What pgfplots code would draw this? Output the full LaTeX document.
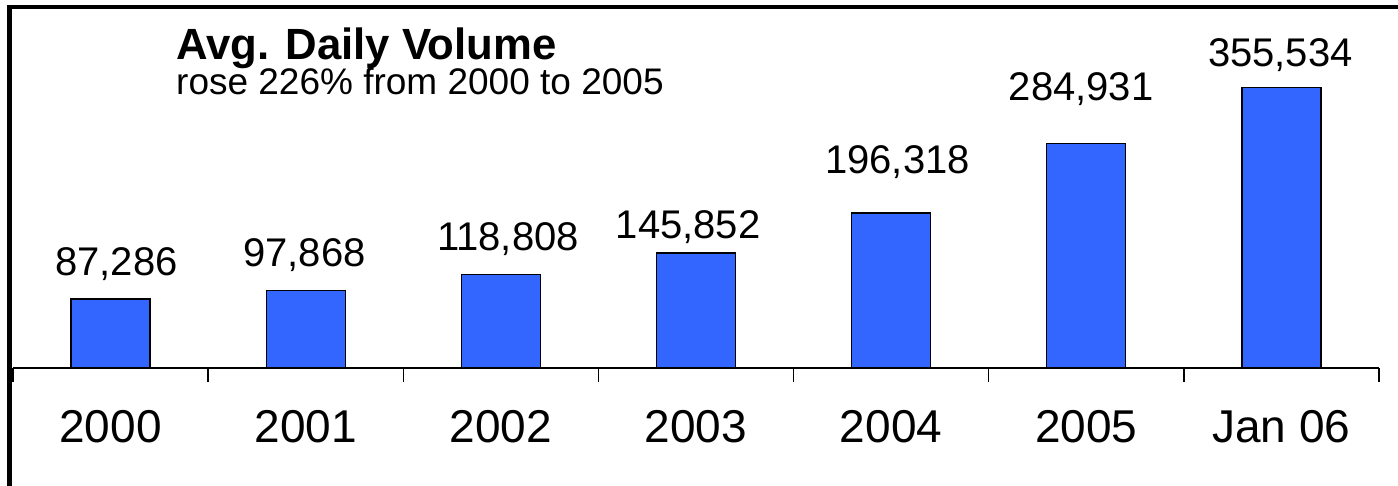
\documentclass[border=0pt]{standalone}
\usepackage{fontspec}
\setmainfont{Liberation Sans}
\usepackage{pgfplots}
\pgfplotsset{compat=1.18}
\definecolor{barblue}{HTML}{3366FF}
\begin{document}
\begin{tikzpicture}[x=1pt,y=1pt]
\useasboundingbox (0,0) rectangle (1398,486);
\begin{axis}[
  at={(13pt,118pt)}, anchor=south west,
  scale only axis, width=1366pt, height=315.5pt,
  xmin=-0.5, xmax=6.5, ymin=0, ymax=400000,
  axis x line=bottom, axis y line=none,
  x axis line style={-, line width=1.5pt},
  xtick={0,...,6},
  xticklabels={2000,2001,2002,2003,2004,2005,Jan 06},
  major tick length=0pt,
  minor xtick={-0.5,0.5,...,6.5},
  minor tick length=14pt,
  tick align=outside,
  minor tick style={line width=1.5pt, black},
  xticklabel style={font=\fontsize{46}{50}\selectfont, anchor=base, yshift=-75pt, inner sep=0pt},
  ytick=\empty,
  clip=false,
]
\addplot[ybar, bar width=79pt, fill=barblue, draw=black, line width=1.3pt]
  coordinates {(0,87286) (1,97868) (2,118808) (3,145852) (4,196318) (5,284931) (6,355534)};
\addplot[draw=none, mark=none, nodes near coords, point meta=explicit symbolic,
  nodes near coords style={anchor=base, inner sep=0pt, font=\fontsize{40}{44}\selectfont}]
  table[meta=label] {
x y label
0.030 117540 87,286
0.994 128060 97,868
2.037 149230 118,808
2.960 164450 145,852
4.033 246860 196,318
4.974 339420 284,931
5.995 381640 355,534
};
\end{axis}
\node[anchor=base west, inner sep=0pt, font=\bfseries\fontsize{43.7}{48}\selectfont] at (176,426) {Avg. Daily Volume};
\node[anchor=base west, inner sep=0pt, font=\fontsize{37}{41}\selectfont] at (176,391) {rose 226\% from 2000 to 2005};
\draw[line width=4.5pt] (9.7,0) -- (9.7,479) -- (1398,479);
\end{tikzpicture}
\end{document}
